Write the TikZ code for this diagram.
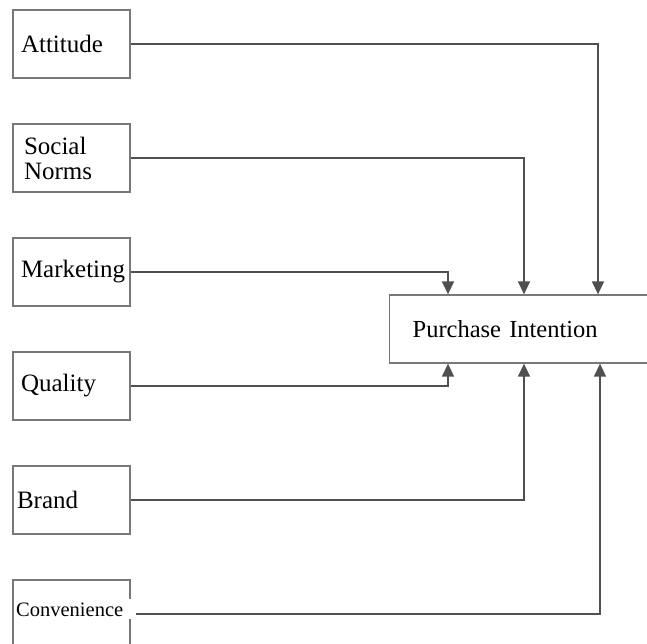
\documentclass[tikz,border=0pt]{standalone}
\usepackage{fontspec}
\setmainfont{Liberation Serif}
\usetikzlibrary{arrows.meta,positioning,calc}
\definecolor{boxgray}{RGB}{120,120,120}
\definecolor{linegray}{RGB}{80,80,80}
\tikzstyle{factor}=[shape=rectangle,draw=boxgray,line width=1.3pt,minimum height=68pt,text width=101pt,inner xsep=8pt,align=left,font=\fontsize{25}{25}\selectfont]
\tikzstyle{target}=[shape=rectangle,draw=boxgray,line width=1.3pt,minimum height=68pt,text width=239pt,inner xsep=23pt,align=left,anchor=west,font=\fontsize{24.5}{26}\selectfont]
\tikzstyle{smalllabel}=[fill=white,text width=118pt,inner xsep=2pt,inner ysep=3pt,align=left,anchor=base west,font=\fontsize{20.5}{21}\selectfont]
\tikzstyle{link}=[draw=linegray,line width=1.5pt,-{Triangle[length=13pt,width=12pt]}]

\begin{document}
\begin{tikzpicture}[x=1pt,y=-1pt]
\useasboundingbox (0,0) rectangle (647,644);

\node[factor] (att) at (71.5,44) {Attitude};
\node[factor] (soc) at (71.5,158) {\hspace*{3pt}Social\\\hspace*{3pt}Norms};
\node[factor] (mkt) at (71.5,272) {Marketing};
\node[factor] (qual) at (71.5,386) {Quality};
\node[factor] (brand) at (71.5,500) {\hspace*{-4pt}Brand};
\node[factor] (conv) at (71.5,614) {};
\node[smalllabel] (convtext) at (14,616) {Convenience};

\node[target] (pi) at (389,329) {Purchase Intention};

% into the top of the box
\draw[link] (att) -| ([xshift=209pt]pi.north west);
\draw[link] (soc) -| ([xshift=135pt]pi.north west);
\draw[link] (mkt) -| ([xshift=59pt]pi.north west);

% into the bottom of the box
\draw[link] (qual) -| ([xshift=59pt]pi.south west);
\draw[link] (brand) -| ([xshift=135pt]pi.south west);
\draw[link] (convtext.east |- conv) -| ([xshift=211pt]pi.south west);

\end{tikzpicture}
\end{document}
